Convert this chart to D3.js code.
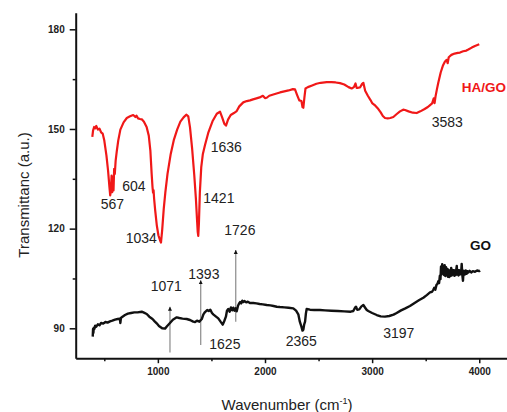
<!DOCTYPE html>
<html>
<head>
<meta charset="utf-8">
<script src="https://cdn.jsdelivr.net/npm/d3@7"></script>
<style>
  body { margin: 0; background: #fff; }
  svg { display: block; font-family: "Liberation Sans", Arial, sans-serif; }
</style>
</head>
<body>
<svg width="507" height="412"></svg>
<script>
// FTIR spectra (wavenumber in cm-1, transmittance in a.u.)
const wnHAGO = [388, 395, 405, 415, 425, 440, 455, 470, 485, 500, 520, 535, 548, 555, 562, 568, 574, 580, 586, 592, 598, 606, 616, 630, 650, 680, 710, 740, 770, 790, 800, 815, 833, 850, 870, 895, 915, 930, 942, 950, 955, 960, 965, 975, 990, 1005, 1020, 1029, 1040, 1055, 1070, 1090, 1120, 1150, 1180, 1210, 1240, 1265, 1284, 1300, 1320, 1340, 1355, 1365, 1372, 1377, 1383, 1392, 1405, 1420, 1440, 1470, 1510, 1550, 1580, 1600, 1620, 1636, 1655, 1680, 1710, 1736, 1760, 1797, 1830, 1860, 1888, 1920, 1950, 1980, 2000, 2016, 2040, 2070, 2100, 2140, 2180, 2220, 2260, 2280, 2300, 2320, 2340, 2350, 2358, 2368, 2378, 2400, 2440, 2480, 2520, 2576, 2620, 2660, 2700, 2740, 2780, 2809, 2830, 2845, 2855, 2870, 2887, 2905, 2918, 2935, 2960, 2985, 3000, 3030, 3058, 3080, 3100, 3120, 3145, 3170, 3198, 3230, 3260, 3290, 3307, 3340, 3380, 3416, 3450, 3490, 3520, 3541, 3560, 3575, 3583, 3592, 3605, 3618, 3640, 3660, 3680, 3696, 3705, 3715, 3740, 3770, 3800, 3820, 3850, 3880, 3898, 3930, 3960, 4000];
const tHAGO = [147.6, 149.5, 150.6, 150.2, 150.9, 149.8, 150.1, 149.0, 148.6, 146.5, 142.0, 137.5, 132.5, 130.0, 131.5, 136.0, 131.0, 135.5, 131.5, 138.0, 136.5, 140.5, 143.2, 146.5, 149.8, 152.0, 153.3, 153.8, 154.2, 153.6, 154.0, 153.2, 153.0, 152.9, 152.2, 150.6, 148.0, 143.5, 136.5, 132.5, 130.8, 131.5, 129.0, 125.5, 121.0, 118.0, 116.5, 115.8, 119.5, 126.0, 131.0, 136.5, 142.5, 146.8, 149.8, 152.2, 153.5, 154.3, 153.8, 150.5, 144.0, 136.0, 129.0, 123.0, 119.0, 117.8, 121.5, 131.0, 138.5, 142.5, 145.2, 148.8, 152.3, 154.6, 155.2, 153.5, 151.6, 151.0, 152.8, 154.2, 154.8, 155.4, 156.8, 158.0, 158.4, 158.6, 158.9, 159.2, 159.5, 160.0, 159.3, 159.4, 160.0, 160.3, 160.6, 161.0, 161.3, 161.6, 162.0, 161.9, 160.2, 158.6, 158.4, 156.6, 156.4, 159.5, 162.2, 162.6, 163.1, 163.6, 163.9, 164.1, 164.1, 164.0, 163.8, 163.4, 162.6, 162.2, 162.6, 163.7, 162.4, 162.4, 162.5, 163.5, 163.9, 161.5, 160.0, 158.7, 157.8, 157.0, 156.0, 155.0, 153.9, 153.3, 153.2, 153.3, 153.6, 154.5, 155.3, 155.8, 155.7, 155.3, 154.9, 154.8, 155.3, 156.0, 156.6, 157.2, 157.7, 159.2, 157.8, 159.8, 162.0, 164.0, 167.0, 169.0, 170.3, 170.8, 169.8, 171.6, 172.3, 172.7, 172.9, 173.0, 173.4, 173.6, 173.9, 174.5, 175.0, 175.5];

const wnGO = [392, 395, 398, 402, 408, 415, 425, 440, 455, 470, 490, 510, 530, 553, 575, 600, 625, 645, 650, 655, 670, 693, 720, 750, 780, 810, 849, 870, 896, 920, 950, 970, 989, 1010, 1040, 1067, 1085, 1113, 1140, 1176, 1200, 1230, 1269, 1300, 1330, 1347, 1365, 1387, 1410, 1425, 1440, 1460, 1475, 1490, 1505, 1517, 1540, 1564, 1585, 1605, 1620, 1635, 1645, 1657, 1670, 1682, 1694, 1704, 1716, 1726, 1736, 1748, 1757, 1767, 1778, 1788, 1798, 1810, 1825, 1840, 1860, 1891, 1920, 1950, 1980, 2016, 2050, 2080, 2110, 2140, 2180, 2220, 2264, 2290, 2311, 2325, 2340, 2350, 2358, 2366, 2374, 2382, 2389, 2420, 2460, 2513, 2560, 2620, 2680, 2740, 2800, 2824, 2840, 2850, 2860, 2880, 2900, 2918, 2935, 2950, 2964, 3000, 3043, 3080, 3120, 3160, 3200, 3229, 3270, 3310, 3353, 3400, 3440, 3478, 3510, 3540, 3560, 3571, 3580, 3590, 3600, 3610, 3618, 3625, 3632, 3638, 3643, 3649, 3654, 3660, 3665, 3672, 3677, 3684, 3690, 3696, 3702, 3708, 3714, 3720, 3726, 3732, 3738, 3744, 3750, 3756, 3762, 3768, 3774, 3780, 3786, 3790, 3795, 3800, 3806, 3812, 3818, 3824, 3830, 3836, 3842, 3848, 3852, 3858, 3866, 3874, 3882, 3890, 3898, 3910, 3925, 3940, 3960, 3980, 4000, 4007];
const tGO = [87.5, 89.8, 88.6, 90.2, 89.9, 90.8, 90.5, 91.2, 90.9, 91.6, 91.4, 91.9, 91.7, 92.1, 92.3, 92.6, 92.8, 92.9, 91.6, 93.1, 93.5, 94.0, 94.4, 94.6, 94.8, 94.8, 95.0, 94.7, 94.3, 93.5, 92.8, 92.1, 91.5, 90.7, 90.0, 89.9, 90.6, 91.6, 92.6, 93.3, 93.1, 92.9, 92.8, 92.5, 92.0, 91.9, 92.3, 92.0, 92.8, 94.2, 94.9, 95.5, 95.2, 95.6, 94.6, 94.2, 93.6, 93.0, 92.0, 91.1, 92.2, 93.5, 95.3, 95.8, 95.0, 96.3, 95.4, 96.2, 95.3, 96.0, 95.1, 96.8, 97.4, 97.9, 97.5, 98.3, 97.9, 98.2, 97.8, 98.0, 97.6, 97.6, 97.5, 97.3, 97.2, 97.0, 96.9, 96.7, 96.5, 96.4, 96.3, 96.2, 96.0, 95.3, 94.2, 92.0, 90.5, 89.3, 89.6, 91.2, 92.0, 94.5, 95.8, 95.6, 95.5, 95.5, 95.4, 95.3, 95.2, 95.1, 95.0, 95.2, 96.2, 96.5, 95.6, 95.7, 96.6, 97.0, 96.2, 95.5, 95.2, 94.6, 94.0, 93.6, 93.5, 93.7, 94.1, 94.6, 95.4, 96.0, 96.7, 97.7, 98.5, 99.2, 100.0, 100.8, 101.0, 101.6, 102.2, 101.6, 103.0, 103.4, 104.2, 103.6, 105.8, 104.8, 108.6, 106.2, 109.3, 106.5, 108.7, 106.0, 109.0, 105.7, 108.4, 106.0, 107.9, 105.5, 107.6, 105.4, 107.2, 105.8, 108.2, 105.9, 107.6, 106.2, 107.5, 105.8, 107.4, 106.0, 107.8, 108.8, 106.2, 107.6, 105.9, 107.5, 106.2, 107.2, 106.3, 109.4, 106.0, 104.3, 106.4, 107.3, 106.2, 107.4, 106.4, 107.2, 106.8, 107.3, 106.8, 107.2, 107.0, 107.4, 107.2, 107.4];

// tick values
const xMajorTicks = [1000, 2000, 3000, 4000];
const xMinorTicks = [500, 1500, 2500, 3500];
const yMajorTicks = [90, 120, 150, 180];
const yMinorTicks = [105, 135, 165];

// peak labels: text, wavenumber, transmittance (text baseline)
const peakText = ["567", "604", "1034", "1421", "1636", "1726", "1071", "1393", "1625", "2365", "3197", "3583"];
const peakWn = [466, 668, 700, 1424, 1493, 1620, 933, 1284, 1480, 2193, 3104, 3556];
const peakT = [125.9, 131.3, 115.7, 127.7, 143.1, 118.1, 101.3, 104.8, 83.8, 84.7, 87.1, 150.6];

// arrows pointing to GO bands
const arrowWn = [1113, 1400, 1727];
const arrowFrom = [82.7, 85.0, 92.0];
const arrowTo = [96.5, 104.5, 113.6];

const svg = d3.select("svg");

const x = d3.scaleLinear().domain([233, 4300]).range([75.7, 511.4]);
const y = d3.scaleLinear().domain([81, 185]).range([358.2, 12.7]);

// marcador de flecha
svg.append("defs").append("marker")
  .attr("id", "head")
  .attr("viewBox", "0 0 10 10")
  .attr("refX", 10).attr("refY", 5)
  .attr("markerWidth", 4).attr("markerHeight", 5)
  .attr("markerUnits", "userSpaceOnUse")
  .attr("orient", "auto")
  .append("path").attr("d", "M0,0L10,5L0,10Z").attr("fill", "#111");

// ejes
const gx = svg.append("g").attr("transform", `translate(0,${y(81)})`);
gx.call(d3.axisBottom(x).tickValues(xMajorTicks).tickFormat(d3.format("d")).tickSize(5).tickPadding(5).tickSizeOuter(0));
const gxm = svg.append("g").attr("transform", `translate(0,${y(81)})`);
gxm.call(d3.axisBottom(x).tickValues(xMinorTicks).tickSize(3).tickFormat(""));
gxm.select(".domain").remove();

const gy = svg.append("g").attr("transform", `translate(${x(233)},0)`);
gy.call(d3.axisLeft(y).tickValues(yMajorTicks).tickSize(6).tickPadding(5).tickSizeOuter(0));
const gym = svg.append("g").attr("transform", `translate(${x(233)},0)`);
gym.call(d3.axisLeft(y).tickValues(yMinorTicks).tickSize(3).tickFormat(""));
gym.select(".domain").remove();

svg.selectAll(".domain").attr("stroke", "#111").attr("stroke-width", 2);
svg.selectAll(".tick line").attr("stroke", "#111").attr("stroke-width", 1.5);
svg.selectAll(".tick text")
  .attr("fill", "#222")
  .style("font-size", "10px")
  .style("font-weight", "bold")
  .style("font-family", "'Liberation Sans', Arial, sans-serif");

// flechas
arrowWn.forEach((w, i) => {
  svg.append("line")
    .attr("x1", x(w)).attr("x2", x(w))
    .attr("y1", y(arrowFrom[i])).attr("y2", y(arrowTo[i]))
    .attr("stroke", "#8a8a8a")
    .attr("stroke-width", 1.2)
    .attr("marker-end", "url(#head)");
});

// curvas
const line = d3.line().x(d => x(d[0])).y(d => y(d[1]));

svg.append("path")
  .datum(d3.zip(wnGO, tGO))
  .attr("d", line)
  .attr("fill", "none")
  .attr("stroke", "#111")
  .attr("stroke-width", 2.4)
  .attr("stroke-linejoin", "round");

svg.append("path")
  .datum(d3.zip(wnHAGO, tHAGO))
  .attr("d", line)
  .attr("fill", "none")
  .attr("stroke", "#f01818")
  .attr("stroke-width", 2.2)
  .attr("stroke-linejoin", "round");

// etiquetas de picos
peakText.forEach((t, i) => {
  svg.append("text")
    .attr("x", x(peakWn[i]))
    .attr("y", y(peakT[i]))
    .text(t)
    .style("font-size", "14px")
    .style("fill", "#222");
});

// nombres de las series
svg.append("text")
  .attr("x", x(3836)).attr("y", y(161.1))
  .text("HA/GO")
  .style("font-size", "13.5px").style("font-weight", "bold")
  .style("fill", "#f01818");

svg.append("text")
  .attr("x", x(3914)).attr("y", y(113.6))
  .text("GO")
  .style("font-size", "13.5px").style("font-weight", "bold")
  .style("fill", "#111");

// títulos de los ejes
svg.append("text")
  .attr("transform", `translate(24,195) rotate(-90)`)
  .attr("text-anchor", "middle")
  .attr("dy", "0.35em")
  .text("Transmittanc (a.u.)")
  .style("font-size", "15px")
  .style("fill", "#222");

const xt = svg.append("text")
  .attr("x", 287).attr("y", 410)
  .attr("text-anchor", "middle")
  .style("font-size", "15px")
  .style("fill", "#222");
xt.append("tspan").text("Wavenumber (cm");
xt.append("tspan").attr("dy", -6).style("font-size", "9px").text("-1");
xt.append("tspan").attr("dy", 6).text(")");
</script>
</body>
</html>
